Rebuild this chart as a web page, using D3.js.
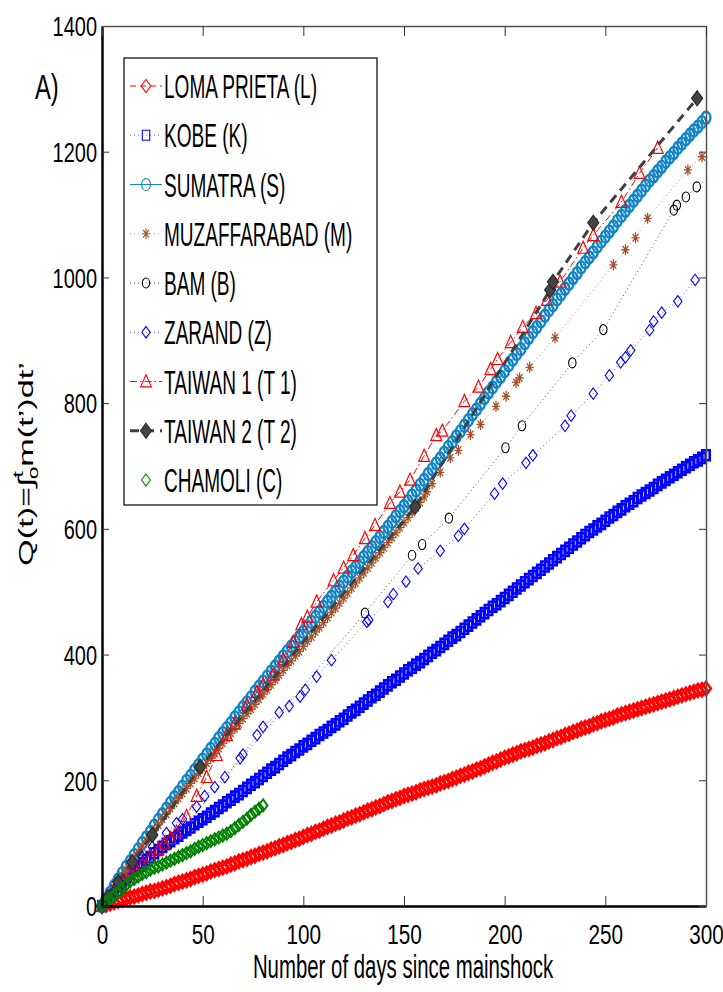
<!DOCTYPE html>
<html>
<head>
<meta charset="utf-8">
<script src="https://cdn.jsdelivr.net/npm/d3@7"></script>
<style>
  body { margin: 0; background: #fff; }
  svg text { font-family: "Liberation Sans", Arial, sans-serif; fill: #000; }
</style>
</head>
<body>
<svg id="chart" width="723" height="992"></svg>
<script>
// ---- data ----
const xTicks = [0, 50, 100, 150, 200, 250, 300];
const yTicks = [0, 200, 400, 600, 800, 1000, 1200, 1400];
const legendLabels = ["LOMA PRIETA (L)", "KOBE (K)", "SUMATRA (S)", "MUZAFFARABAD (M)", "BAM (B)",
                      "ZARAND (Z)", "TAIWAN 1 (T 1)", "TAIWAN 2 (T 2)", "CHAMOLI (C)"];

// dense series: one value every 2 days, starting at day 0
const lomaQ = [
  0, 2, 4, 6, 8, 10, 12, 14, 15, 17, 19, 21, 23, 24, 26, 28, 30, 32, 35, 37,
  39, 41, 43, 46, 48, 50, 52, 55, 57, 59, 61, 63, 66, 68, 71, 73, 75, 78, 80, 83,
  85, 87, 90, 92, 95, 97, 100, 102, 105, 107, 110, 113, 115, 118, 120, 123, 126, 128, 131, 133,
  136, 139, 141, 144, 146, 149, 152, 154, 157, 159, 162, 165, 167, 170, 172, 175, 177, 179, 181, 184,
  186, 188, 190, 192, 195, 197, 199, 202, 204, 207, 209, 212, 214, 217, 219, 222, 225, 228, 230, 233,
  236, 238, 241, 243, 246, 248, 250, 252, 255, 257, 259, 262, 264, 267, 269, 272, 274, 277, 279, 282,
  284, 286, 289, 291, 294, 296, 298, 300, 303, 305, 307, 309, 311, 313, 315, 317, 319, 321, 323, 325,
  327, 329, 331, 333, 335, 337, 339, 341, 343, 344, 346];

const kobeQ = [
  0, 8, 16, 24, 31, 38, 44, 51, 57, 63, 68, 73, 78, 84, 89, 94, 99, 103, 108, 112,
  117, 121, 125, 130, 134, 138, 142, 147, 151, 156, 160, 165, 169, 174, 178, 183, 188, 193, 197, 202,
  207, 212, 217, 221, 226, 231, 236, 240, 245, 249, 254, 258, 263, 267, 272, 276, 280, 285, 289, 294,
  298, 303, 308, 312, 317, 322, 327, 332, 336, 341, 346, 351, 356, 360, 365, 370, 375, 379, 384, 388,
  393, 398, 403, 407, 412, 417, 422, 427, 431, 436, 441, 446, 451, 456, 461, 466, 471, 476, 480, 485,
  490, 495, 500, 505, 510, 515, 520, 525, 530, 535, 540, 545, 550, 555, 560, 565, 570, 575, 580, 585,
  590, 595, 599, 604, 608, 613, 618, 622, 627, 631, 636, 640, 644, 649, 653, 657, 661, 665, 670, 674,
  678, 682, 686, 690, 694, 698, 702, 706, 709, 713, 717];

const sumatraQ = [
  0, 11, 21, 32, 42, 52, 62, 71, 81, 90, 100, 109, 118, 128, 137, 146, 155, 164, 173, 181,
  190, 199, 207, 216, 224, 233, 241, 250, 258, 267, 275, 283, 291, 300, 308, 316, 324, 332, 341, 349,
  357, 365, 373, 381, 389, 397, 405, 413, 420, 428, 436, 444, 452, 460, 468, 476, 484, 492, 500, 508,
  516, 524, 532, 539, 547, 555, 563, 571, 579, 587, 595, 603, 611, 620, 628, 636, 644, 653, 661, 670,
  678, 687, 695, 704, 712, 721, 730, 738, 747, 755, 764, 773, 782, 790, 799, 808, 817, 825, 834, 842,
  851, 860, 869, 878, 886, 895, 904, 913, 921, 930, 939, 948, 956, 965, 973, 982, 990, 999, 1007, 1016,
  1024, 1032, 1040, 1049, 1057, 1065, 1073, 1081, 1090, 1098, 1106, 1114, 1122, 1130, 1138, 1146, 1154, 1161, 1169, 1176,
  1184, 1191, 1198, 1206, 1213, 1220, 1227, 1234, 1240, 1247, 1254];

// Muzaffarabad: dense up to day 160, sparse afterwards
const muzEarlyQ = [
  0, 10, 20, 30, 40, 49, 58, 67, 76, 85, 94, 103, 112, 120, 129, 138, 146, 155, 163, 171,
  179, 187, 195, 203, 211, 219, 227, 235, 243, 251, 259, 267, 275, 282, 290, 298, 306, 313, 321, 329,
  337, 344, 352, 360, 367, 375, 383, 390, 398, 405, 413, 421, 428, 436, 443, 451, 459, 467, 474, 482,
  490, 498, 506, 514, 522, 530, 538, 546, 554, 562, 570, 578, 586, 594, 602, 610, 618, 626, 634, 642, 651];
const muzLateDays = [161.5, 164, 168, 173, 177, 183, 188, 195.7, 200.7, 205.7, 207.4, 212.4, 225, 254, 260, 265, 271, 291, 298];
const muzLateQ    = [659, 672, 690, 713, 725, 750, 766, 795, 811, 833, 840, 857, 904, 1020, 1044, 1063, 1094, 1171, 1192];

const bamDays = [0, 4, 10, 20, 33, 130.6, 154, 159, 172.3, 200.4, 208.6, 233.6, 249, 284, 285.5, 290, 295.4];
const bamQ    = [0, 14, 33, 62, 97, 466, 558, 575, 617, 729, 764, 864, 917, 1107, 1115, 1128, 1144];

const zarandDays = [0, 3, 6, 10, 15, 20, 25, 32, 37, 40, 47, 51, 56, 61, 68.6, 70, 77, 80, 88, 93,
                    98.4, 101, 106.6, 114, 131.5, 132.5, 142, 144.7, 151, 157, 168, 177, 180, 195, 199,
                    210.6, 214, 230, 233, 244, 252, 257.6, 260, 262.6, 272, 274, 278, 286, 294.6];
const zarandQ    = [0, 12, 24, 40, 62, 78, 94, 116, 132, 138, 158, 175, 189, 205, 235, 241, 272, 285, 308, 318,
                    333, 344, 365, 391, 452, 455, 484, 496, 516, 537, 565, 589, 600, 656, 672,
                    705, 717, 764, 780, 815, 844, 865, 873, 884, 916, 930, 944, 962, 996];

const taiwan1Days = [0, 3, 7, 11, 14, 17, 20, 24, 28, 31, 34, 37, 42, 47, 52, 57, 62, 66, 72, 77,
                     80, 85, 90, 95, 99, 102, 106.6, 115, 120, 124.8, 130.6, 135.6, 143, 148, 153, 160, 166, 169,
                     180, 187, 193, 196.5, 203, 209, 215.6, 221, 227.5, 239, 244, 258, 267, 276];
const taiwan1Q    = [0, 11, 26, 40, 50, 58, 66, 79, 90, 99, 108, 118, 143, 175, 205, 240, 272, 290, 320, 340,
                     352, 368, 392, 420, 448, 460, 484, 518, 538, 558, 585, 606, 641, 659, 678, 716, 749, 756,
                     803, 826, 854, 870, 897, 921, 943, 964, 993, 1047, 1067, 1120, 1166, 1206];

const taiwan2Days = [0, 3, 8, 15, 25, 48.7, 155.5, 222.6, 224, 244, 295.6];
const taiwan2Q    = [0, 14, 38, 70, 113, 221, 635, 980, 993, 1087, 1285];

// Chamoli: one value every 2 days up to day 80
const chamoliQ = [
  0, 6, 11, 17, 22, 28, 33, 39, 43, 47, 51, 54, 58, 61, 63, 66, 69, 72, 75, 78,
  81, 84, 87, 91, 94, 97, 100, 103, 106, 109, 112, 115, 119, 124, 129, 134, 139, 145, 150, 155, 160];

// ---- marker shapes (MATLAB style) ----
const diamondSym = { draw(ctx, size) { const r = Math.sqrt(size) / 2;
  ctx.moveTo(0, -r); ctx.lineTo(r, 0); ctx.lineTo(0, r); ctx.lineTo(-r, 0); ctx.closePath(); } };
const squareSym = { draw(ctx, size) { const r = Math.sqrt(size) / 2; ctx.rect(-r, -r, 2 * r, 2 * r); } };
const circleSym = { draw(ctx, size) { const r = Math.sqrt(size) / 2; ctx.moveTo(r, 0); ctx.arc(0, 0, r, 0, 2 * Math.PI); } };
const triangleSym = { draw(ctx, size) { const r = Math.sqrt(size) / 2;
  ctx.moveTo(0, -r); ctx.lineTo(r * 1.1, r * 0.8); ctx.lineTo(-r * 1.1, r * 0.8); ctx.closePath(); } };
const starSym = { draw(ctx, size) { const r = Math.sqrt(size) / 2, k = r * 0.7;
  ctx.moveTo(0, -r); ctx.lineTo(0, r); ctx.moveTo(-r, 0); ctx.lineTo(r, 0);
  ctx.moveTo(-k, -k); ctx.lineTo(k, k); ctx.moveTo(-k, k); ctx.lineTo(k, -k); } };

// the original figure is squeezed horizontally, text and markers follow it
const SQ = 0.74;

function every2(values) { return values.map((q, i) => [i * 2, q]); }
function pairs(days, values) { return days.map((d, i) => [d, values[i]]); }

// sw = marker stroke; the dense series get a heavy stroke so they read as solid bands
const series = [
  { pts: every2(lomaQ), sym: diamondSym, size: 169, sw: 2.6, color: "#ff0000", fill: "none", line: "#ff0000", width: 1, dash: "6,4" },
  { pts: every2(kobeQ), sym: squareSym, size: 100, sw: 2.6, color: "#0000ff", fill: "none", line: "#7070ff", width: 1, dash: "1,3" },
  { pts: every2(sumatraQ), sym: circleSym, size: 144, sw: 2.3, color: "#1084c6", fill: "none", line: "#1084c6", width: 1, dash: null },
  { pts: every2(muzEarlyQ).concat(pairs(muzLateDays, muzLateQ)), sym: starSym, size: 121, sw: 1.3, color: "#a5522a", fill: "none", line: "#c89070", width: 1, dash: "1,3" },
  { pts: pairs(bamDays, bamQ), sym: circleSym, size: 100, sw: 1.1, color: "#000000", fill: "none", line: "#555555", width: 1, dash: "1,3" },
  { pts: pairs(zarandDays, zarandQ), sym: diamondSym, size: 130, sw: 1.1, color: "#0000ff", fill: "none", line: "#5050ff", width: 1, dash: "1,3" },
  { pts: pairs(taiwan1Days, taiwan1Q), sym: triangleSym, size: 180, sw: 1.2, color: "#ff0000", fill: "none", line: "#ff0000", width: 1, dash: "7,3,1.5,3" },
  { pts: pairs(taiwan2Days, taiwan2Q), sym: diamondSym, size: 225, sw: 1.2, color: "#2a2a2a", fill: "#444444", line: "#404040", width: 3, dash: "9,6" },
  { pts: every2(chamoliQ), sym: diamondSym, size: 144, sw: 1.9, color: "#008000", fill: "none", line: null, width: 0, dash: null }
];

const svg = d3.select("#chart");
const x = d3.scaleLinear().domain([0, 300]).range([102, 706]);
const y = d3.scaleLinear().domain([0, 1400]).range([906, 26]);
const line = d3.line().x(d => x(d[0])).y(d => y(d[1]));

function drawMarkers(g, s, pts, px, py, sw) {
  g.selectAll("path.mk").data(pts).join("path")
    .attr("class", "mk")
    .attr("d", d3.symbol().type(s.sym).size(s.size))
    .attr("transform", d => "translate(" + px(d) + "," + py(d) + ") scale(" + SQ + ",1)")
    .attr("fill", s.fill)
    .attr("stroke", s.color)
    .attr("stroke-width", sw)
    .attr("vector-effect", "non-scaling-stroke");
}

// ---- series ----
series.forEach(s => {
  const g = svg.append("g");
  if (s.line) {
    g.append("path").datum(s.pts)
      .attr("d", line)
      .attr("fill", "none")
      .attr("stroke", s.line)
      .attr("stroke-width", s.width)
      .attr("stroke-dasharray", s.dash);
  }
  drawMarkers(g, s, s.pts, d => x(d[0]), d => y(d[1]), s.sw);
});

// ---- axes (ticks pointing inwards, box on) ----
const fmt = d3.format("d");
const gx = svg.append("g").attr("transform", "translate(0,906)")
  .call(d3.axisBottom(x).tickValues(xTicks).tickFormat(fmt).tickSizeInner(-10).tickSizeOuter(0));
const gy = svg.append("g").attr("transform", "translate(102,0)")
  .call(d3.axisLeft(y).tickValues(yTicks).tickFormat(fmt).tickSizeInner(-7).tickSizeOuter(0));
const gr = svg.append("g").attr("transform", "translate(706,0)")
  .call(d3.axisRight(y).tickValues(yTicks).tickSizeInner(-7).tickSizeOuter(0).tickFormat(""));
const gt = svg.append("g").attr("transform", "translate(0,26)")
  .call(d3.axisTop(x).tickValues(xTicks).tickSizeInner(-10).tickSizeOuter(0).tickFormat(""));

[gx, gy].forEach(g => g.select(".domain").attr("stroke", "#000").attr("stroke-width", 2.5));
[gr, gt].forEach(g => g.select(".domain").attr("stroke", "#555").attr("stroke-width", 1.5));
[gx, gy, gr, gt].forEach(g => g.selectAll(".tick line").attr("stroke", "#333"));

gx.selectAll(".tick text")
  .attr("y", 38).attr("dy", null)
  .attr("transform", "scale(" + SQ + ",1)")
  .style("font-size", "28px");
gy.selectAll(".tick text")
  .attr("x", -5 / SQ).attr("dy", "0.36em")
  .attr("transform", "scale(" + SQ + ",1)")
  .style("font-size", "27px");
svg.selectAll(".tick text").attr("fill", "#000").style("font-family", '"Liberation Sans", Arial, sans-serif');

// ---- titles ----
svg.append("text")
  .attr("transform", "translate(403,978) scale(0.6,1)")
  .attr("text-anchor", "middle")
  .style("font-size", "34px")
  .text("Number of days since mainshock");

svg.append("text")
  .attr("transform", "translate(35,99) scale(0.68,1)")
  .style("font-size", "35px")
  .text("A)");

const yLab = svg.append("text")
  .attr("text-anchor", "middle")
  .style("font-size", "21px");
yLab.append("tspan").text("Q(t)=\u222B");
yLab.append("tspan").attr("font-size", "14px").attr("dy", -10).text("t");
yLab.append("tspan").attr("font-size", "14px").attr("dx", -5).attr("dy", 15).text("o");
yLab.append("tspan").attr("dy", -5).text("m(t\u2019)dt\u2019");
const labLen = yLab.node().getComputedTextLength();
yLab.attr("transform", "translate(33,464) rotate(-90) scale(" + (212 / labLen) + ",1)");

// ---- legend ----
const leg = svg.append("g");
leg.append("rect")
  .attr("x", 124).attr("y", 58).attr("width", 253).attr("height", 447)
  .attr("fill", "#fff").attr("stroke", "#000").attr("stroke-width", 1.2);

series.forEach((s, i) => {
  const cy = 86 + i * 49.25;
  const row = leg.append("g");
  if (s.line) {
    row.append("line")
      .attr("x1", 130).attr("x2", 162).attr("y1", cy).attr("y2", cy)
      .attr("stroke", s.line)
      .attr("stroke-width", s.width)
      .attr("stroke-dasharray", s.dash);
  }
  drawMarkers(row, s, [0], () => 146, () => cy, 1.1);
  row.append("text")
    .attr("transform", "translate(164," + (cy + 12) + ") scale(0.56,1)")
    .style("font-size", "34px")
    .text(legendLabels[i]);
});
</script>
</body>
</html>
